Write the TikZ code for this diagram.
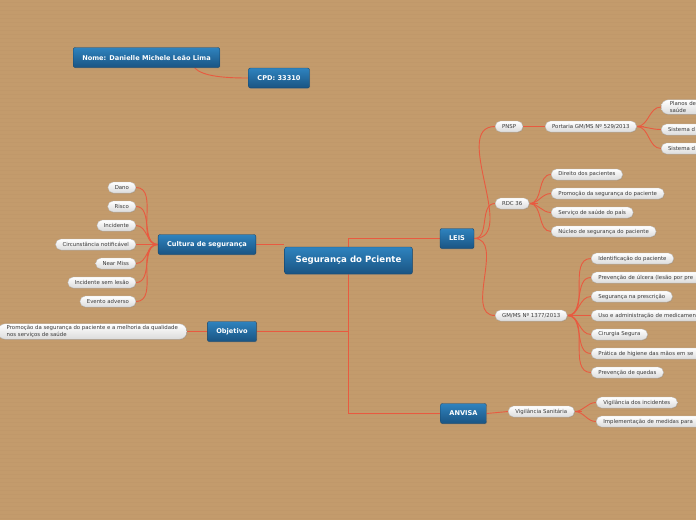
\documentclass[tikz,border=0pt]{standalone}
\usepackage{fontspec}
\setmainfont{DejaVu Sans}
\usepackage{tikz}
\usetikzlibrary{positioning, shapes.misc, shadows, backgrounds}
\definecolor{myTan}{HTML}{C39B6C}
\definecolor{myStripe}{HTML}{B08A5F}
\definecolor{myLink}{HTML}{E85A40}
\definecolor{myBlueTop}{HTML}{2E83BF}
\definecolor{myBlueBot}{HTML}{1A5482}
\definecolor{myBlueLine}{HTML}{15456B}
\definecolor{myInk}{HTML}{3A3A3A}

\begin{document}
\begin{tikzpicture}[x=1pt, y=-1pt,
  topic/.style={draw=myBlueLine, rounded corners=2pt,
                top color=myBlueTop, bottom color=myBlueBot, text=white,
                font=\fontsize{6.6}{7.5}\selectfont\bfseries,
                minimum height=20pt, inner xsep=9pt,
                drop shadow={opacity=0.35, shadow xshift=0.6pt, shadow yshift=-0.8pt}},
  sub/.style={rounded rectangle, draw=gray!55, line width=0.3pt,
              top color=white, bottom color=gray!28, text=myInk,
              font=\fontsize{5.4}{6.2}\selectfont, align=left,
              minimum height=11pt, inner xsep=6.5pt, inner ysep=1pt,
              drop shadow={opacity=0.3, shadow xshift=0.5pt, shadow yshift=-0.7pt}},
  cut/.style={sub, text width=150pt},
  link/.style={draw=myLink, line width=0.9pt},
  stub/.style={link, line width=1.8pt}
]
\useasboundingbox (0,0) rectangle (696,520);

% main topics
\node[topic, font=\fontsize{8.6}{9.5}\selectfont\bfseries, minimum height=27pt,
      inner xsep=11pt] (centro) at (348.5,260.5) {Segurança do Pciente};
\node[topic] (nome) at (146.5,57.5) {Nome: Danielle Michele Leão Lima};
\node[topic] (cpd) at (279,78) {CPD: 33310};
\node[topic] (leis) at (457,238.5) {LEIS};
\node[topic] (anvisa) at (463.5,413.5) {ANVISA};
\node[topic] (cultura) at (207,244.5) {Cultura de segurança};
\node[topic] (objetivo) at (232,331.5) {Objetivo};

% cultura de seguranca
\node[sub, anchor=east] (dano) at (136,187.5) {Dano};
\node[sub, anchor=east] (risco) at (136,206.5) {Risco};
\node[sub, anchor=east] (incidente) at (136,225.5) {Incidente};
\node[sub, anchor=east] (circ) at (136,244.5) {Circunstância notificável};
\node[sub, anchor=east] (near) at (136,263.5) {Near Miss};
\node[sub, anchor=east] (semlesao) at (136,282.5) {Incidente sem lesão};
\node[sub, anchor=east] (evento) at (136,301.5) {Evento adverso};

% objetivo
\node[sub, anchor=east, inner ysep=2pt] (promo) at (187,331.5)
  {Promoção da segurança do paciente e a melhoria da qualidade\\nos serviços de saúde};

% leis
\node[sub, anchor=west] (pnsp) at (495,126.5) {PNSP};
\node[sub, anchor=west] (rdc) at (495,203.5) {RDC 36};
\node[sub, anchor=west] (gmms) at (495,315.5) {GM/MS Nº 1377/2013};
\node[sub, anchor=west] (portaria) at (545,126.5) {Portaria GM/MS Nº 529/2013};
\node[cut, anchor=west, inner ysep=2pt] (planos) at (661,107) {Planos de\\saúde};
\node[cut, anchor=west] (sistema1) at (661,129.5) {Sistema d};
\node[cut, anchor=west] (sistema2) at (661,148.5) {Sistema d};
\node[sub, anchor=west] (direito) at (551,174.5) {Direito dos pacientes};
\node[sub, anchor=west] (promseg) at (551,193.5) {Promoção da segurança do paciente};
\node[sub, anchor=west] (servico) at (551,212.5) {Serviço de saúde do país};
\node[sub, anchor=west] (nucleo) at (551,231.5) {Núcleo de segurança do paciente};
\node[sub, anchor=west] (ident) at (591,258.5) {Identificação do paciente};
\node[cut, anchor=west] (ulcera) at (591,277.5) {Prevenção de úlcera (lesão por pre};
\node[sub, anchor=west] (prescr) at (591,296.5) {Segurança na prescrição};
\node[cut, anchor=west] (medic) at (591,315.5) {Uso e administração de medicamen};
\node[sub, anchor=west] (cirurgia) at (591,334.5) {Cirurgia Segura};
\node[cut, anchor=west] (maos) at (591,353.5) {Prática de higiene das mãos em se};
\node[sub, anchor=west] (quedas) at (591,372.5) {Prevenção de quedas};

% anvisa
\node[sub, anchor=west] (vigsan) at (508,411.5) {Vigilância Sanitária};
\node[sub, anchor=west] (vigdos) at (596,402.5) {Vigilância dos incidentes};
\node[cut, anchor=west] (implem) at (596,421.5) {Implementação de medidas para};

\begin{pgfonlayer}{background}
  \fill[myTan] (0,0) rectangle (696,520);
  \foreach \y in {2,6,...,520}
    \draw[myStripe, opacity=0.15, line width=0.4pt] (0,\y) -- (696,\y);
  % trunk
  \draw[link] (leis.west) -| (centro.center);
  \draw[link, line width=1.6pt] (centro.center) |- (anvisa.west);
  \draw[link] (objetivo.east) -| (centro.center);
  \draw[link] (cultura.east) -- (cultura.east -| centro.west);
  \draw[link] ([xshift=48pt]nome.south) .. controls +(8,9) and +(-22,0) .. (cpd.west);
  \draw[link] (objetivo.west) -- (promo.east);
  % branches
  \foreach \n in {dano,risco,incidente,circ,near,semlesao,evento}
    \draw[link] (cultura.west) to[out=180,in=0] (\n.east);
  \draw[stub] (cultura.west) -- ++(-6,0);
  \foreach \n in {pnsp,rdc,gmms}
    \draw[link] (leis.east) to[out=0,in=180] (\n.west);
  \draw[stub] (leis.east) -- ++(5,0);
  \draw[link] (pnsp.east) -- (portaria.west);
  \foreach \n in {planos,sistema1,sistema2}
    \draw[link] (portaria.east) to[out=0,in=180] (\n.west);
  \draw[stub] (portaria.east) -- ++(7,0);
  \foreach \n in {direito,promseg,servico,nucleo}
    \draw[link] (rdc.east) to[out=0,in=180] (\n.west);
  \draw[stub] (rdc.east) -- ++(9,0);
  \foreach \n in {ident,ulcera,prescr,medic,cirurgia,maos,quedas}
    \draw[link] (gmms.east) to[out=0,in=180] (\n.west);
  \draw[stub] (gmms.east) -- ++(9,0);
  \draw[link] (anvisa.east) -- (vigsan.west);
  \foreach \n in {vigdos,implem}
    \draw[link] (vigsan.east) to[out=0,in=180] (\n.west);
  \draw[stub] (vigsan.east) -- ++(7,0);
\end{pgfonlayer}
\end{tikzpicture}
\end{document}
